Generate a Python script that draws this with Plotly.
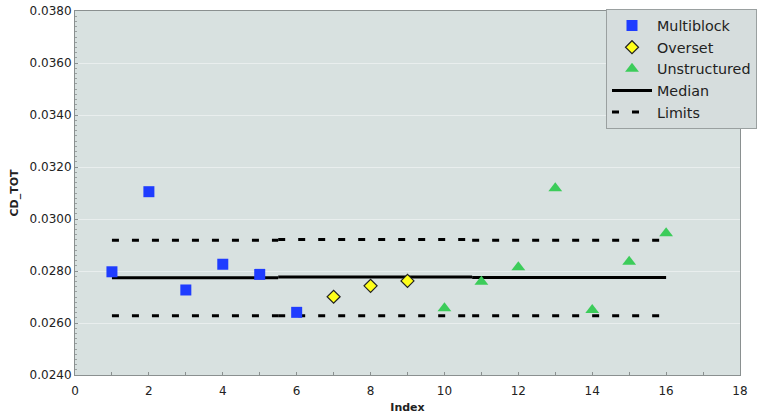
import plotly.graph_objects as go

# ---- data ----
multiblock_x = [1, 2, 3, 4, 5, 6]
multiblock_y = [0.02797, 0.03105, 0.02727, 0.02826, 0.02787, 0.02641]
overset_x = [7, 8, 9]
overset_y = [0.02701, 0.02743, 0.02762]
unstruct_x = [10, 11, 12, 13, 14, 15, 16]
unstruct_y = [0.02657, 0.02759, 0.02814, 0.03118, 0.02650, 0.02836, 0.02945]

seg_start = [1.0, 5.5, 10.75]
seg_end = [5.5, 10.75, 16.0]
median_vals = [0.02774, 0.02777, 0.02775]
upper_vals = [0.02918, 0.02921, 0.02918]
lower_vals = [0.02628, 0.02628, 0.02628]


def seg_xy(vals):
    xs, ys = [], []
    for s, e, v in zip(seg_start, seg_end, vals):
        xs += [s, e, None]
        ys += [v, v, None]
    return xs, ys


fig = go.Figure()
mx, my = seg_xy(median_vals)
fig.add_trace(go.Scatter(x=mx, y=my, mode="lines", name="Median", legendrank=4,
                         line=dict(color="black", width=3)))
ux, uy = seg_xy(upper_vals)
lx, ly = seg_xy(lower_vals)
fig.add_trace(go.Scatter(x=ux + lx, y=uy + ly, mode="lines", name="Limits", legendrank=5,
                         line=dict(color="black", width=3, dash="7px,13px")))
fig.add_trace(go.Scatter(x=multiblock_x, y=multiblock_y, mode="markers", name="Multiblock",
                         legendrank=1,
                         marker=dict(symbol="square", size=11, color="#1f3cff",
                                     line=dict(width=0))))
fig.add_trace(go.Scatter(x=overset_x, y=overset_y, mode="markers", name="Overset",
                         legendrank=2,
                         marker=dict(symbol="diamond", size=10, color="#ffff1a",
                                     line=dict(width=1.2, color="#222222"))))
fig.add_trace(go.Scatter(x=unstruct_x, y=unstruct_y, mode="markers", name="Unstructured",
                         legendrank=3,
                         marker=dict(symbol="triangle-up", size=12, color="#3ccc5a",
                                     line=dict(width=0))))

fig.update_layout(
    width=761, height=414,
    margin=dict(l=75, r=21, t=11, b=39, autoexpand=False),
    paper_bgcolor="white",
    plot_bgcolor="#d8e1e0",
    font=dict(family="DejaVu Sans", size=11, color="#222222"),
    showlegend=True,
    legend=dict(x=0.7985, y=1.006, xanchor="left", yanchor="top",
                bgcolor="#d6dddd", bordercolor="#9aa0a0", borderwidth=1,
                font=dict(size=14.3, color="#222222"),
                tracegroupgap=0, itemwidth=40),
    xaxis=dict(range=[0, 18], dtick=2, showgrid=False, zeroline=False, automargin=False,
               showline=True, linecolor="#8a9090", mirror=True, linewidth=1,
               ticks="inside", ticklen=3, tickcolor="#8a9090", ticklabelstandoff=5,
               minor=dict(dtick=1, ticks="inside", ticklen=3, tickcolor="#8a9090"),
               tickfont=dict(size=12),
               title=dict(text="<b>Index</b>", font=dict(size=11), standoff=6)),
    yaxis=dict(range=[0.024, 0.038], dtick=0.002, tickformat=".4f", automargin=False,
               showgrid=True, gridcolor="#e9eeee", gridwidth=1, zeroline=False,
               showline=True, linecolor="#8a9090", mirror=True, linewidth=1,
               ticks="inside", ticklen=3, tickcolor="#8a9090",
               minor=dict(dtick=0.0002, ticks="inside", ticklen=2, tickcolor="#9aa0a0", showgrid=False),
               tickfont=dict(size=12),
               title=dict(text="<b>CD_TOT</b>", font=dict(size=11), standoff=8)),
)

fig.write_html("out.html", config={"displayModeBar": False},
               post_script="document.body.style.margin='0px';document.body.style.overflow='hidden';")
